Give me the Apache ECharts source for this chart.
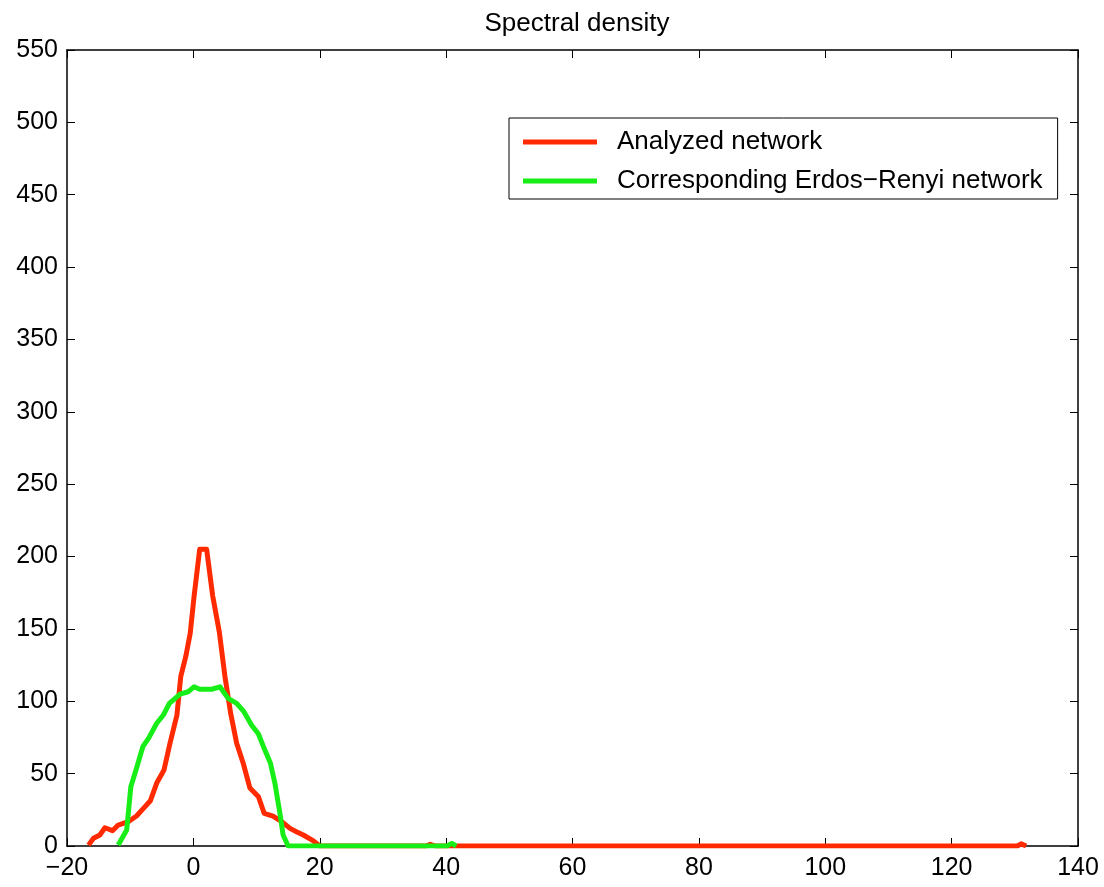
<!DOCTYPE html>
<html>
<head>
<meta charset="utf-8">
<script src="https://cdn.jsdelivr.net/npm/echarts@6/dist/echarts.min.js"></script>
<style>html,body{margin:0;padding:0;background:#fff}#c{width:1104px;height:887px}</style>
</head>
<body>
<div id="c"></div>
<script>
const titleText = 'Spectral density';
const seriesNames = ['Analyzed network', 'Corresponding Erdos\u2212Renyi network'];
const xTicks = [-20, 0, 20, 40, 60, 80, 100, 120, 140];
const yTicks = [0, 50, 100, 150, 200, 250, 300, 350, 400, 450, 500, 550];

const analyzedX = [-16.6,-15.8,-14.8,-14.0,-12.8,-11.9,-10.3,-9.0,-7.9,-6.8,-5.8,-4.65,-3.7,-2.6,-2.0,-1.2,-0.5,0.1,1.0,2.1,3.05,4.1,5.0,5.9,6.85,7.9,8.95,10.3,11.2,12.6,14.0,15.3,16.3,17.4,19.0,20.0,36.8,37.5,38.3,130.4,131.0,131.8];
const analyzedY = [0.6,5.3,7.6,12.6,10.6,14.5,16.8,20.7,26,31.3,43.5,52.5,71,90.5,117,131,147,172,205,205,173,148,117,91.7,71,57,40,34,22.6,20.7,16.8,12.2,9.9,7.6,3.5,0,0,1.2,0,0,1.5,0];

const erX = [-11.9,-10.55,-9.9,-9.0,-8.0,-7.1,-5.8,-4.75,-3.8,-2.1,-0.8,0.1,1.0,2.9,4.2,5.5,6.85,8.0,9.2,10.3,11.2,12.2,12.9,13.7,14.2,15.0,40.1,40.9,41.6];
const erY = [0.7,11,41,53.7,68.6,74.4,84.8,90.5,98.6,105,106.6,110,108.3,108.3,110,102,98.6,92.8,83.6,77.4,67.5,57.2,43.4,22.6,7.6,0,0,1.8,0];

const pairs = (xs, ys) => xs.map((x, i) => [x, ys[i]]);
const minusFmt = v => String(v).replace('-', '\u2212');
const FONT = '"Liberation Sans", Arial, Helvetica, sans-serif';

const chart = echarts.init(document.getElementById('c'), null, {renderer: 'canvas'});
const axisLine = {show: true, onZero: false, lineStyle: {color: '#000', width: 1.5}};
const tick = {show: true, inside: true, length: 8, lineStyle: {color: '#000', width: 1}};
chart.setOption({
  animation: false,
  backgroundColor: '#fff',
  title: {
    text: titleText, left: 572, top: 6, textAlign: 'center',
    textStyle: {fontFamily: FONT, fontSize: 26, fontWeight: 'normal', color: '#000'}
  },
  grid: {left: 67, right: 26, top: 50, bottom: 41, containLabel: false},
  legend: {
    orient: 'vertical', left: 509, top: 118,
    padding: [11, 15, 5, 14], itemGap: 13,
    itemWidth: 74, itemHeight: 5, icon: 'rect',
    borderColor: '#000', borderWidth: 1, backgroundColor: '#fff',
    textStyle: {fontFamily: FONT, fontSize: 26, color: '#000', lineHeight: 26, padding: [0, 0, 0, 15]},
    data: seriesNames
  },
  xAxis: [
    {type: 'value', min: xTicks[0], max: xTicks[xTicks.length - 1], interval: 20,
     axisLine: axisLine, splitLine: {show: false}, axisTick: tick,
     axisLabel: {fontFamily: FONT, fontSize: 25, color: '#000', margin: 10, formatter: minusFmt}},
    {type: 'value', position: 'top', min: xTicks[0], max: xTicks[xTicks.length - 1], interval: 20,
     axisLine: axisLine, splitLine: {show: false}, axisTick: tick,
     axisLabel: {show: false}}
  ],
  yAxis: [
    {type: 'value', min: yTicks[0], max: yTicks[yTicks.length - 1], interval: 50,
     axisLine: axisLine, splitLine: {show: false}, axisTick: tick,
     axisLabel: {fontFamily: FONT, fontSize: 25, color: '#000', margin: 9}},
    {type: 'value', position: 'right', min: yTicks[0], max: yTicks[yTicks.length - 1], interval: 50,
     axisLine: axisLine, splitLine: {show: false}, axisTick: tick,
     axisLabel: {show: false}}
  ],
  series: [
    {name: seriesNames[0], type: 'line', xAxisIndex: 0, yAxisIndex: 0,
     data: pairs(analyzedX, analyzedY), showSymbol: false, symbol: 'none',
     lineStyle: {color: '#ff2a00', width: 5, join: 'round'}, itemStyle: {color: '#ff2a00'}},
    {name: seriesNames[1], type: 'line', xAxisIndex: 0, yAxisIndex: 0,
     data: pairs(erX, erY), showSymbol: false, symbol: 'none',
     lineStyle: {color: '#17ee17', width: 5, join: 'round'}, itemStyle: {color: '#17ee17'}}
  ]
});
</script>
</body>
</html>
